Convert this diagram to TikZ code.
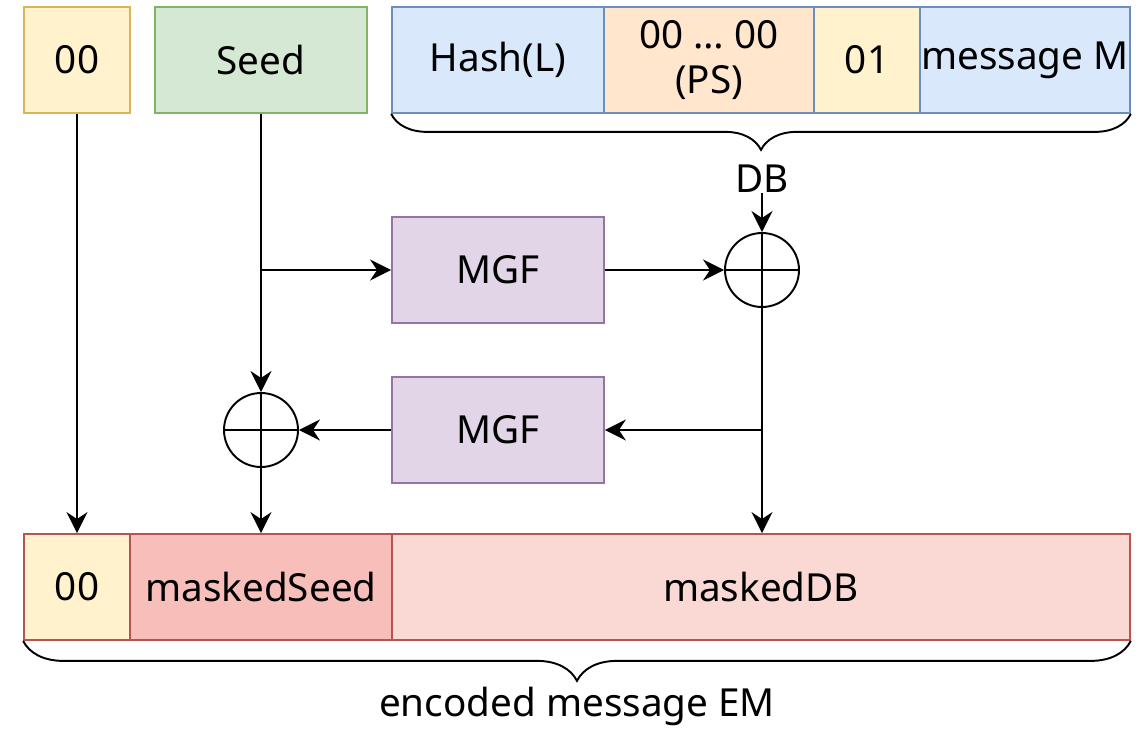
\documentclass[tikz,border=0pt]{standalone}
\usepackage{fontspec}
\setmainfont{Noto Sans}
\usepackage{tikz}
\usetikzlibrary{shapes,arrows.meta,decorations.pathreplacing,positioning}

\definecolor{yelFill}{HTML}{FFF2CC}
\definecolor{yelLine}{HTML}{D6B656}
\definecolor{grnFill}{HTML}{D5E8D4}
\definecolor{grnLine}{HTML}{82B366}
\definecolor{bluFill}{HTML}{DAE8FC}
\definecolor{bluLine}{HTML}{6C8EBF}
\definecolor{orgFill}{HTML}{FFE6CC}
\definecolor{purFill}{HTML}{E1D5E7}
\definecolor{purLine}{HTML}{9673A6}
\definecolor{redLine}{HTML}{B85450}
\definecolor{redFill}{HTML}{F8BFBA}
\definecolor{pnkFill}{HTML}{FAD9D5}

\begin{document}
\begin{tikzpicture}[x=0.02cm,y=-0.02cm]
			\tikzstyle{Field}	= [draw, rectangle, line width=1pt, inner sep=0pt, minimum height=2.12cm, align=center, font=\fontsize{22}{26}\selectfont]
			\tikzstyle{Wide}	= [minimum width=4.24cm]
			\tikzstyle{Narrow}	= [minimum width=2.12cm]
			\tikzstyle{Yellow}	= [fill=yelFill, draw=yelLine]
			\tikzstyle{Green}	= [fill=grnFill, draw=grnLine]
			\tikzstyle{Blue}	= [fill=bluFill, draw=bluLine]
			\tikzstyle{Orange}	= [fill=orgFill, draw=bluLine]
			\tikzstyle{Purple}	= [fill=purFill, draw=purLine]
			\tikzstyle{Red}		= [draw=redLine]
			\tikzstyle{Xor}		= [draw, circle, line width=1.1pt, minimum size=1.48cm, inner sep=0pt]
			\tikzstyle{Arrow}	= [line width=1.1pt, -{Stealth[length=12pt,width=12pt,inset=4pt]}]
			\tikzstyle{Brace}	= [line width=1.1pt, decorate, decoration={brace, mirror, amplitude=0.72cm}]
			\tikzstyle{Label}	= [font=\fontsize{22}{26}\selectfont, inner sep=0pt]

			\useasboundingbox (0,0) rectangle (1140,728);

			% input fields
			\node (zero) at (77,60) [Field][Narrow][Yellow] {00};
			\node (seed) at (261,60) [Field][Wide][Green] {Seed};
			\node (hash) at (498,60) [Field][Wide][Blue] {Hash(L)};
			\node (ps) at (709,60) [Field][minimum width=4.2cm][Orange] {00 \dots{} 00\\(PS)};
			\node (one) at (867,60) [Field][Narrow][Blue][fill=yelFill] {01};
			\node (msg) at (1025,60) [Field][minimum width=4.2cm][Blue] {message M};

			\draw (hash.south west) to (msg.south east) [Brace];
			\node (db) at (762,179) [Label] {DB};

			% masking
			\node (mgfa) at (498,270) [Field][Wide][Purple] {MGF};
			\node (mgfb) at (498,430) [Field][Wide][Purple] {MGF};
			\node (xora) at (762,270) [Xor] {};
			\node (xorb) at (261,430) [Xor] {};
			\draw [line width=1.1pt] (xora.north) -- (xora.south) (xora.west) -- (xora.east);
			\draw [line width=1.1pt] (xorb.north) -- (xorb.south) (xorb.west) -- (xorb.east);
			\coordinate (sj) at (261,270);
			\coordinate (dj) at (762,430);

			% encoded message
			\node (emzero) at (77,587) [Field][Narrow][Yellow][Red] {00};
			\node (mseed) at (261,587) [Field][minimum width=5.24cm][Red][fill=redFill] {maskedSeed};
			\node (mdb) at (761,587) [Field][minimum width=14.76cm][Red][fill=pnkFill] {maskedDB};

			\draw (emzero.south west) to (mdb.south east) [Brace][decoration={amplitude=0.8cm}];
			\node (em) at (577,706) [Label] {encoded message EM};

			\draw (db) to (xora) [Arrow];
			\draw (seed) to (xorb) [Arrow];
			\draw (sj) to (mgfa) [Arrow];
			\draw (mgfa) to (xora) [Arrow];
			\draw (xora) to (xora |- mdb.north) [Arrow];
			\draw (dj) to (mgfb) [Arrow];
			\draw (mgfb) to (xorb) [Arrow];
			\draw (xorb) to (mseed) [Arrow];
			\draw (zero) to (emzero) [Arrow];
		\end{tikzpicture}
\end{document}
